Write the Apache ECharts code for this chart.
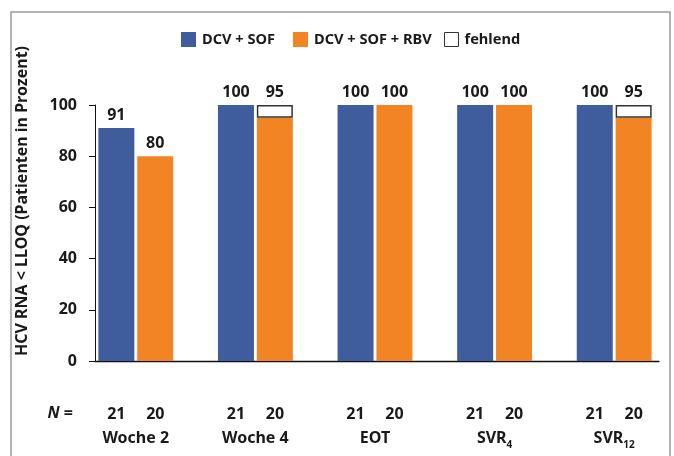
<!DOCTYPE html>
<html><head><meta charset="utf-8">
<script src="https://cdn.jsdelivr.net/npm/echarts@6/dist/echarts.min.js"></script>
<style>html,body{margin:0;padding:0;background:#fff}#c{width:674px;height:456px}</style>
</head><body><div id="c"></div>
<script>
const categories = ['Woche 2', 'Woche 4', 'EOT', 'SVR4', 'SVR12'];
const dcvSof = [91, 100, 100, 100, 100];
const dcvSofRbv = [80, 95, 100, 100, 95];
const fehlend = [0, 5, 0, 0, 5];
const nDcvSof = [21, 21, 21, 21, 21];
const nDcvSofRbv = [20, 20, 20, 20, 20];
const yTicks = [0, 20, 40, 60, 80, 100];

const FONT = '"Noto Sans", "Open Sans", sans-serif';
const BLUE = '#3F5D9D', ORANGE = '#F38424', INK = '#1a1a1a';
const chart = echarts.init(document.getElementById('c'), null, {renderer: 'canvas'});

const catLabel = (c) => {
  if (c === 'SVR4') return '{c|SVR}{s|4}';
  if (c === 'SVR12') return '{c|SVR}{s|12}';
  return '{c|' + c + '}';
};

const labelStyle = {show: true, position: 'top', distance: 5, color: INK,
  fontFamily: FONT, fontWeight: 'bold', fontSize: 16};

const legendBase = {top: 32, padding: 0, itemWidth: 15, itemHeight: 15,
  textStyle: {fontFamily: FONT, fontWeight: 'bold', fontSize: 14.6, color: INK, padding: [0, 0, 0, 1]}};

chart.setOption({
  animation: false,
  backgroundColor: '#fff',
  legend: [
    Object.assign({}, legendBase, {left: 181, data: [{name: 'DCV + SOF', icon: 'rect'}]}),
    Object.assign({}, legendBase, {left: 293, data: [{name: 'DCV + SOF + RBV', icon: 'rect'}]}),
    Object.assign({}, legendBase, {left: 444, itemWidth: 14, itemHeight: 14,
      data: [{name: 'fehlend', icon: 'rect', itemStyle: {color: '#fff', borderColor: '#333', borderWidth: 1}}]})
  ],
  grid: [
    {left: 76, width: 600, top: 105, bottom: 95},
    {left: 95, right: 15, top: 105, bottom: 95}
  ],
  xAxis: [
    {type: 'category', gridIndex: 0, data: categories,
      axisLine: {show: false}, axisTick: {show: false},
      axisLabel: {
        margin: 41, interval: 0,
        formatter: (v, i) => '{a|' + nDcvSof[i] + '}{b|' + nDcvSofRbv[i] + '}\n' + catLabel(v),
        rich: {
          a: {width: 39, align: 'center', fontFamily: FONT, fontWeight: 'bold', fontSize: 16, color: INK, lineHeight: 24},
          b: {width: 39, align: 'center', fontFamily: FONT, fontWeight: 'bold', fontSize: 16, color: INK, lineHeight: 24},
          c: {fontFamily: FONT, fontWeight: 'bold', fontSize: 16, color: INK, lineHeight: 24},
          s: {fontFamily: FONT, fontWeight: 'bold', fontSize: 10, color: INK, lineHeight: 12, verticalAlign: 'bottom'}
        }
      }},
    {type: 'value', gridIndex: 1, min: 0, max: 1,
      axisLine: {show: true, lineStyle: {color: '#111', width: 1.3}},
      axisTick: {show: false}, axisLabel: {show: false}, splitLine: {show: false}}
  ],
  yAxis: [
    {type: 'value', gridIndex: 0, min: 0, max: 100, show: false},
    {type: 'value', gridIndex: 1, min: yTicks[0], max: yTicks[yTicks.length - 1], interval: 20,
      axisLine: {show: true, lineStyle: {color: '#111', width: 1}},
      axisTick: {show: true, inside: false, length: 6, lineStyle: {color: '#111'}},
      axisLabel: {margin: 18, fontFamily: FONT, fontWeight: 'bold', fontSize: 16, color: INK},
      splitLine: {show: false}}
  ],
  series: [
    {name: 'DCV + SOF', type: 'bar', xAxisIndex: 0, yAxisIndex: 0, barWidth: 36, barGap: '8%',
      itemStyle: {color: BLUE}, label: labelStyle, data: dcvSof},
    {name: 'DCV + SOF + RBV', type: 'bar', xAxisIndex: 0, yAxisIndex: 0, barWidth: 36, stack: 'rbv',
      itemStyle: {color: ORANGE},
      data: dcvSofRbv.map((v, i) => ({value: v, label: Object.assign({}, labelStyle, {show: !(fehlend[i] > 0)})}))},
    {name: 'fehlend', type: 'bar', xAxisIndex: 0, yAxisIndex: 0, barWidth: 36, stack: 'rbv',
      itemStyle: {color: '#fff', borderColor: '#333', borderWidth: 1.5},
      data: fehlend.map((v, i) => v > 0 ? {value: v, label: Object.assign({}, labelStyle, {formatter: String(dcvSofRbv[i])})} : '-')}
  ],
  graphic: [
    {type: 'rect', shape: {x: 11, y: 12, width: 659, height: 460}, style: {fill: 'none', stroke: '#9a9a9a', lineWidth: 1.5}, silent: true, z: -1},
    {type: 'text', x: 22, y: 201, rotation: Math.PI / 2,
      style: {text: 'HCV RNA < LLOQ (Patienten in Prozent)', fontFamily: FONT, fontWeight: 'bold', fontSize: 16, fill: INK, align: 'center', verticalAlign: 'middle'}},
    {type: 'text', x: 73, y: 413,
      style: {text: '{i|N} =', rich: {i: {fontStyle: 'italic', fontFamily: FONT, fontWeight: 'bold', fontSize: 16, fill: INK}}, fontFamily: FONT, fontWeight: 'bold', fontSize: 16, fill: INK, align: 'right', verticalAlign: 'middle'}}
  ]
});
</script></body></html>
